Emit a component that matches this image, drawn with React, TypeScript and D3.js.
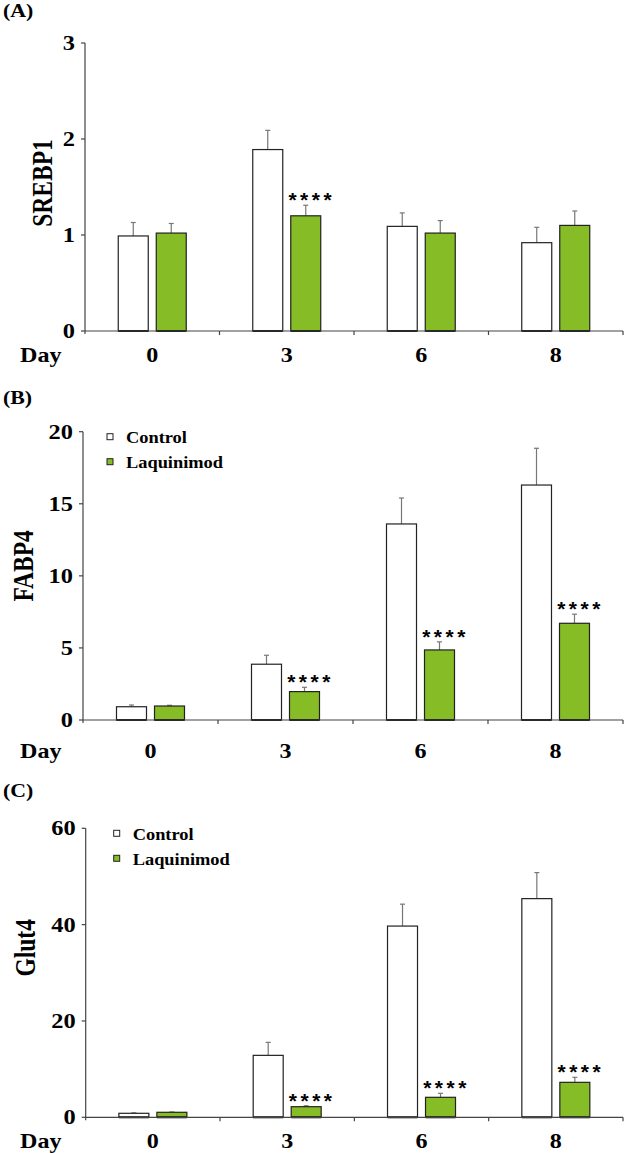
import React from "react";
import * as d3 from "d3";

const days = ["0", "3", "6", "8"];
const seriesNames = ["Control", "Laquinimod"];

const srebp1Control = [0.99, 1.89, 1.09, 0.92];
const srebp1ControlErr = [0.14, 0.2, 0.14, 0.16];
const srebp1Laq = [1.02, 1.2, 1.02, 1.1];
const srebp1LaqErr = [0.1, 0.11, 0.13, 0.15];
const srebp1Sig = ["", "****", "", ""];
const srebp1Ticks = [0, 1, 2, 3];

const fabp4Control = [0.92, 3.87, 13.6, 16.3];
const fabp4ControlErr = [0.12, 0.62, 1.8, 2.55];
const fabp4Laq = [0.97, 1.97, 4.86, 6.71];
const fabp4LaqErr = [0.05, 0.3, 0.56, 0.63];
const fabp4Sig = ["", "****", "****", "****"];
const fabp4Ticks = [0, 5, 10, 15, 20];

const glut4Control = [0.83, 12.86, 39.7, 45.4];
const glut4ControlErr = [0.1, 2.7, 4.55, 5.4];
const glut4Laq = [1.04, 2.2, 4.15, 7.26];
const glut4LaqErr = [0.06, 0.2, 0.83, 1.04];
const glut4Sig = ["", "****", "****", "****"];
const glut4Ticks = [0, 20, 40, 60];

const GREEN = "#86BC25";
const AXIS = "#444";
const SERIF = "'Liberation Serif', 'Times New Roman', serif";

type PanelProps = {
  letter: string;
  ylabel: string;
  control: number[];
  controlErr: number[];
  laq: number[];
  laqErr: number[];
  sig: string[];
  ticks: number[];
  axisX: number;
  top: number;
  bottom: number;
  labelX: number;
  letterY: number;
  catDy: number;
  legend: boolean;
};

function Txt(props: {
  x: number;
  y: number;
  size: number;
  sx?: number;
  anchor?: string;
  children: React.ReactNode;
  family?: string;
  spacing?: number;
  rotate?: boolean;
}) {
  const sx = props.sx ?? 1;
  const t = `translate(${props.x},${props.y}) scale(${sx},1)${props.rotate ? " rotate(-90)" : ""}`;
  return (
    <text
      transform={t}
      fontSize={props.size}
      fontWeight="bold"
      fontFamily={props.family ?? SERIF}
      textAnchor={props.anchor ?? "start"}
      letterSpacing={props.spacing}
      fill="#000"
    >
      {props.children}
    </text>
  );
}

function Panel(p: PanelProps) {
  const right = 623;
  const ymax = p.ticks[p.ticks.length - 1];
  const y = d3.scaleLinear().domain([0, ymax]).range([p.bottom, p.top]);
  const x0 = d3.scaleBand().domain(days).range([p.axisX, right]).padding(0);
  const groupW = 68;
  const x1 = d3.scaleBand().domain(seriesNames).range([0, groupW]).paddingInner(0.2105).paddingOuter(0);
  const vals = [p.control, p.laq];
  const errs = [p.controlErr, p.laqErr];
  const fills = ["#fff", GREEN];
  const bw = x1.bandwidth();
  const boundaries = days.map((d) => (x0(d) as number) + x0.bandwidth());

  return (
    <g>
      <Txt x={3} y={p.letterY} size={19} sx={1.15}>
        ({p.letter})
      </Txt>
      {/* bars */}
      {days.map((d, i) => {
        const gx = (x0(d) as number) + (x0.bandwidth() - groupW) / 2;
        return seriesNames.map((s, k) => {
          const bx = gx + (x1(s) as number);
          const v = vals[k][i];
          const e = errs[k][i];
          const cx = bx + bw / 2;
          return (
            <g key={d + s}>
              <line x1={cx} x2={cx} y1={y(v)} y2={y(v + e)} stroke="#777" strokeWidth={1.2} />
              <line x1={cx - 2.5} x2={cx + 2.5} y1={y(v + e)} y2={y(v + e)} stroke="#777" strokeWidth={1.2} />
              <rect x={bx} y={y(v)} width={bw} height={y(0) - y(v)} fill={fills[k]} stroke="#222" strokeWidth={1.2} />
              <line x1={bx} x2={bx + bw} y1={y(0)} y2={y(0)} stroke="#111" strokeWidth={2} />
            </g>
          );
        });
      })}
      {/* significance */}
      {days.map((d, i) => {
        if (!p.sig[i]) return null;
        const gx = (x0(d) as number) + (x0.bandwidth() - groupW) / 2;
        const cx = gx + (x1("Laquinimod") as number) + bw / 2 + 6;
        const ty = y(p.laq[i] + p.laqErr[i]) - 10;
        return (
          <Txt key={"s" + d} x={cx} y={ty + 12} size={21} anchor="middle" family="'Liberation Sans', Arial, sans-serif" spacing={3.5}>
            {p.sig[i]}
          </Txt>
        );
      })}
      {/* y axis */}
      <line x1={p.axisX} x2={p.axisX} y1={p.top} y2={p.bottom + 3} stroke={AXIS} strokeWidth={1.2} />
      {p.ticks.map((t) => (
        <g key={"t" + t}>
          <line x1={p.axisX - 4} x2={p.axisX} y1={y(t)} y2={y(t)} stroke={AXIS} strokeWidth={1.2} />
          <Txt x={p.axisX - 10} y={y(t) + 7} size={20} sx={1.22} anchor="end">
            {t}
          </Txt>
        </g>
      ))}
      {/* x axis */}
      <line x1={p.axisX} x2={right} y1={p.bottom} y2={p.bottom} stroke={AXIS} strokeWidth={1.2} />
      {boundaries.map((bx, i) => (
        <line key={"b" + i} x1={bx} x2={bx} y1={p.bottom} y2={p.bottom + 4} stroke={AXIS} strokeWidth={1.2} />
      ))}
      <Txt x={20} y={p.bottom + p.catDy + 7.5} size={21.5} sx={1.12}>
        Day
      </Txt>
      {days.map((d) => (
        <Txt key={"c" + d} x={(x0(d) as number) + x0.bandwidth() / 2} y={p.bottom + p.catDy + 7.5} size={21.5} sx={1.12} anchor="middle">
          {d}
        </Txt>
      ))}
      {/* y label */}
      <Txt x={p.labelX + 7.5} y={(p.top + p.bottom) / 2 + (p.letter === "A" ? -4 : p.letter === "B" ? -10 : -25)} size={23.5} sx={1.25} anchor="middle" rotate>
        {p.ylabel}
      </Txt>
      {/* legend */}
      {p.legend &&
        seriesNames.map((s, k) => (
          <g key={"l" + s}>
            <rect
              x={p.axisX + (p.letter === "B" ? 27 : 31) - 3}
              y={p.top + 5 + k * 25 - 3}
              width={6}
              height={6}
              fill={fills[k]}
              stroke="#222"
              strokeWidth={1}
            />
            <Txt x={p.axisX + (p.letter === "B" ? 43 : 47)} y={p.top + 11.5 + k * 25} size={17.5} sx={1.05}>
              {s}
            </Txt>
          </g>
        ))}
    </g>
  );
}

export default function App() {
  return (
    <svg width={625} height={1153} style={{ position: "absolute", left: 0, top: 0, background: "#fff" }}>
      <Panel
        letter="A"
        ylabel="SREBP1"
        control={srebp1Control}
        controlErr={srebp1ControlErr}
        laq={srebp1Laq}
        laqErr={srebp1LaqErr}
        sig={srebp1Sig}
        ticks={srebp1Ticks}
        axisX={85}
        top={43}
        bottom={331}
        labelX={44}
        letterY={17}
        catDy={23.5}
        legend={false}
      />
      <Panel
        letter="B"
        ylabel="FABP4"
        control={fabp4Control}
        controlErr={fabp4ControlErr}
        laq={fabp4Laq}
        laqErr={fabp4LaqErr}
        sig={fabp4Sig}
        ticks={fabp4Ticks}
        axisX={83}
        top={431.7}
        bottom={720}
        labelX={25}
        letterY={404}
        catDy={30}
        legend={true}
      />
      <Panel
        letter="C"
        ylabel="Glut4"
        control={glut4Control}
        controlErr={glut4ControlErr}
        laq={glut4Laq}
        laqErr={glut4LaqErr}
        sig={glut4Sig}
        ticks={glut4Ticks}
        axisX={85.7}
        top={828.3}
        bottom={1117.3}
        labelX={27}
        letterY={797}
        catDy={23.5}
        legend={true}
      />
    </svg>
  );
}
